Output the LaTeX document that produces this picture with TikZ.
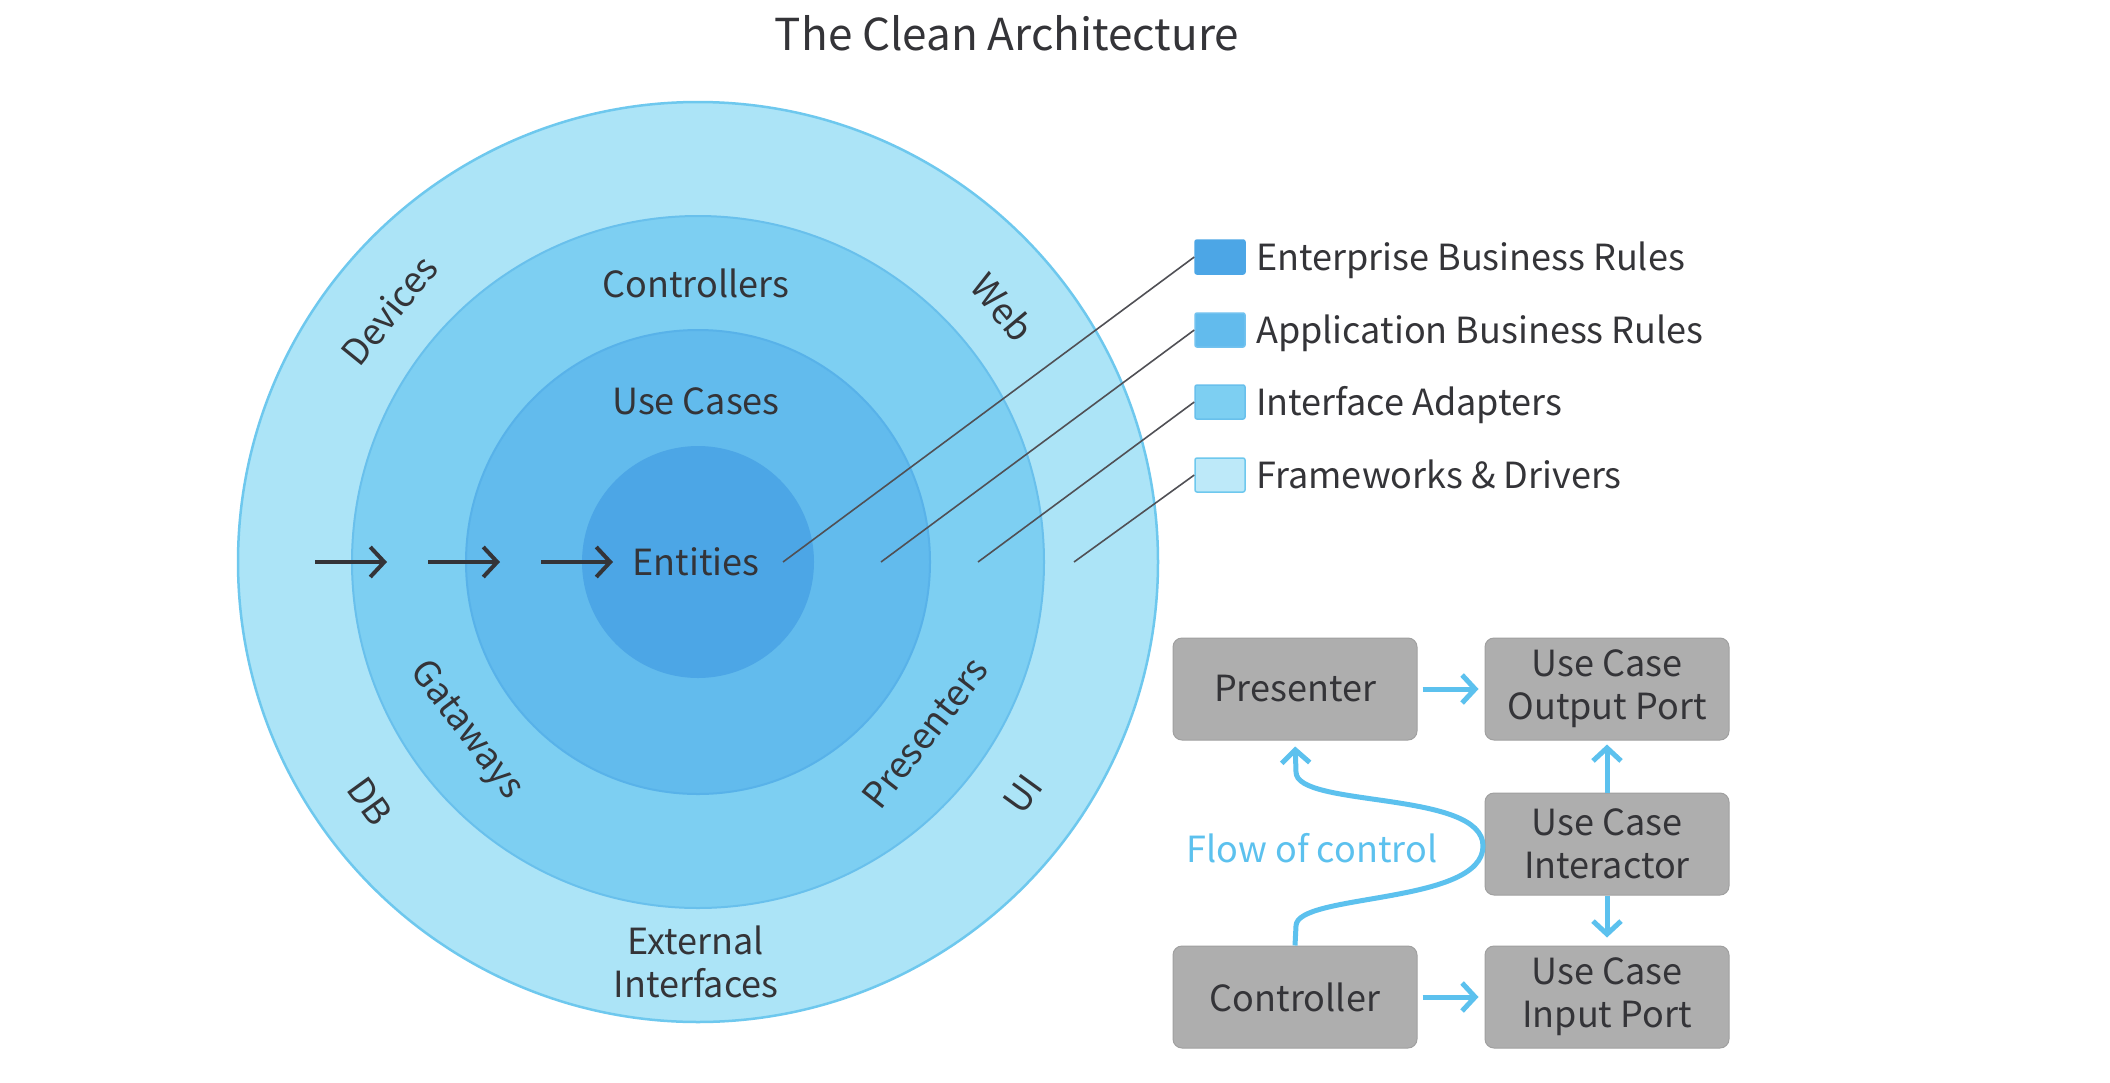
\documentclass[tikz,border=0pt]{standalone}
\usepackage{fontspec}
\setmainfont{Noto Sans CJK SC}
\usetikzlibrary{arrows.meta}
\definecolor{ringA}{RGB}{172,228,247}
\definecolor{ringAe}{RGB}{110,200,238}
\definecolor{ringB}{RGB}{125,207,242}
\definecolor{ringBe}{RGB}{105,192,236}
\definecolor{ringC}{RGB}{98,187,237}
\definecolor{ringCe}{RGB}{88,178,233}
\definecolor{ringD}{RGB}{76,166,230}
\definecolor{txt}{RGB}{52,52,56}
\definecolor{boxgray}{RGB}{174,174,174}
\definecolor{boxedge}{RGB}{160,160,160}
\definecolor{flowblue}{RGB}{92,193,238}
\definecolor{leader}{RGB}{80,80,85}
\tikzset{
  lbl/.style={font=\fontsize{36}{43}\selectfont, text=txt, inner sep=0pt, align=center},
  legtxt/.style={font=\fontsize{36}{43}\selectfont, text=txt, inner sep=0pt, anchor=base west},
  legsq/.style={minimum width=50pt, minimum height=34pt, inner sep=0pt, rounded corners=2pt, line width=1.5pt},
  ucbox/.style={lbl, fill=boxgray, draw=boxedge, line width=1pt, rounded corners=9pt, minimum width=244pt, minimum height=102pt},
  blackarrow/.style={draw=txt, line width=4pt, -{Straight Barb[length=14pt, width=30pt, line width=4pt]}},
  bluearrow/.style={draw=flowblue, line width=5pt, -{Straight Barb[length=13pt, width=28pt, line width=5pt]}},
  leaderline/.style={draw=leader, line width=1.6pt}
}
\begin{document}
\begin{tikzpicture}[x=1pt,y=-1pt]
\useasboundingbox[fill=white] (0,0) rectangle (2110,1082);
% title
\node[lbl, font=\fontsize{44}{50}\selectfont] (title) at (1007,33) {The Clean Architecture};
% circles
\coordinate (c) at (698,562);
\fill[ringA, draw=ringAe, line width=2.5pt] (c) circle[radius=460pt];
\fill[ringB, draw=ringBe, line width=2pt] (c) circle[radius=346pt];
\fill[ringC, draw=ringCe, line width=2pt] (c) circle[radius=232pt];
\fill[ringD] (c) circle[radius=116pt];
% circle labels
\node[lbl] (ctl) at (696,283) {Controllers};
\node[lbl] (uc) at (696,401) {Use Cases};
\node[lbl] (ent) at (696,562) {Entities};
\node[lbl] (ext) at (696,962) {External\\Interfaces};
\node[lbl, rotate=51] (dev) at (389,310) {Devices};
\node[lbl, rotate=-50] (web) at (1003,307) {Web};
\node[lbl, rotate=-54] (db) at (370,801) {DB};
\node[lbl, rotate=54] (ui) at (1023,794) {UI};
\node[lbl, rotate=-53] (gat) at (466,731) {Gataways};
\node[lbl, rotate=52] (pre) at (925,733) {Presenters};
% black arrows
\coordinate (a1s) at (315,562); \coordinate (a1e) at (387,562);
\coordinate (a2s) at (428,562); \coordinate (a2e) at (500,562);
\coordinate (a3s) at (541,562); \coordinate (a3e) at (613,562);
\draw[blackarrow] (a1s) -- (a1e);
\draw[blackarrow] (a2s) -- (a2e);
\draw[blackarrow] (a3s) -- (a3e);
% legend
\node[legsq, fill=ringD, draw=ringD] (sq1) at (1220,257) {};
\node[legsq, fill=ringC, draw=ringC!90!white] (sq2) at (1220,330) {};
\node[legsq, fill=ringB, draw=ringBe] (sq3) at (1220,402) {};
\node[legsq, fill=ringA!80!white, draw=ringAe] (sq4) at (1220,475) {};
\node[legtxt] (l1) at (1256,270) {Enterprise Business Rules};
\node[legtxt] (l2) at (1256,343) {Application Business Rules};
\node[legtxt] (l3) at (1256,415) {Interface Adapters};
\node[legtxt] (l4) at (1256,488) {Frameworks \& Drivers};
\coordinate (p1) at (783,562);
\coordinate (p2) at (881,562);
\coordinate (p3) at (978,562);
\coordinate (p4) at (1074,562);
\draw[leaderline] (p1) -- (sq1.west);
\draw[leaderline] (p2) -- (sq2.west);
\draw[leaderline] (p3) -- (sq3.west);
\draw[leaderline] (p4) -- (sq4.west);
% use case boxes
\node[ucbox] (pres) at (1295,689) {Presenter};
\node[ucbox] (outp) at (1607,689) {Use Case\\Output Port};
\node[ucbox] (inter) at (1607,844) {Use Case\\Interactor};
\node[ucbox] (ctrl) at (1295,997) {Controller};
\node[ucbox] (inp) at (1607,997) {Use Case\\Input Port};
\draw[bluearrow, shorten <=5pt, shorten >=6pt] (pres) -- (outp);
\draw[bluearrow, shorten <=5pt, shorten >=6pt] (ctrl) -- (inp);
\draw[bluearrow, shorten >=4pt] (inter) -- (outp);
\draw[bluearrow, shorten >=8pt] (inter) -- (inp);
\coordinate (fr) at (1483,846);
\draw[bluearrow, shorten >=6pt] (ctrl.north) -- (1296,926) .. controls (1296,893) and (1483,905) .. (fr) .. controls (1483,790) and (1296,808) .. (1296,772) -- (pres.south);
\node[lbl, text=flowblue] (flow) at (1312,848) {Flow of control};
\end{tikzpicture}
\end{document}
